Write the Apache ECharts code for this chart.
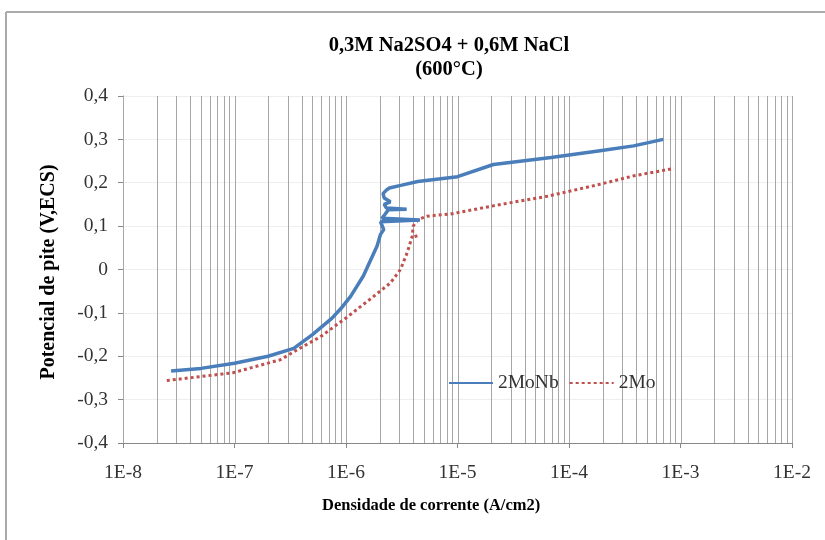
<!DOCTYPE html>
<html>
<head>
<meta charset="utf-8">
<script src="https://cdn.jsdelivr.net/npm/echarts@6/dist/echarts.min.js"></script>
<style>html,body{margin:0;padding:0;background:#fff;}#chart{width:825px;height:540px;}</style>
</head>
<body>
<div id="chart"></div>
<script>
// 2MoNb: [current density A/cm2, potential V]
const moNb = [
  [2.7e-8,-0.234],[5e-8,-0.228],[1e-7,-0.216],[2e-7,-0.2],[3.4e-7,-0.182],[5e-7,-0.15],
  [7.5e-7,-0.112],[9e-7,-0.09],[1.1e-6,-0.062],[1.43e-6,-0.015],[1.9e-6,0.054],[2.04e-6,0.081],
  [2.18e-6,0.092],[2.04e-6,0.11],[4.6e-6,0.114],[2.1e-6,0.118],[2.25e-6,0.128],[2.4e-6,0.138],
  [3.5e-6,0.139],[2.3e-6,0.142],[2.2e-6,0.15],[2.5e-6,0.156],[2.2e-6,0.165],[2.15e-6,0.175],
  [2.3e-6,0.183],[2.45e-6,0.188],[3.1e-6,0.194],[4.4e-6,0.203],[1e-5,0.214],[2.1e-5,0.242],
  [6.9e-5,0.258],[1.9e-4,0.274],[3.8e-4,0.285],[7e-4,0.3]
];
// 2Mo
const mo = [
  [2.47e-8,-0.256],[9.7e-8,-0.238],[2.58e-7,-0.208],[3.9e-7,-0.181],[5.9e-7,-0.155],
  [1.02e-6,-0.11],[1.77e-6,-0.062],[2.5e-6,-0.031],[3.08e-6,0.0],[3.54e-6,0.039],
  [3.93e-6,0.077],[4.0e-6,0.1],[4.47e-6,0.116],[5.35e-6,0.123],[8.67e-6,0.128],
  [2.44e-5,0.15],[6.41e-5,0.169],[1.93e-4,0.197],[3.82e-4,0.216],[8.75e-4,0.233]
];
const moStray = [[4.2e-6,0.08],[4.35e-6,0.068]];
const seriesNames = ['2MoNb','2Mo'];
const xMin = 1e-8, xMax = 1e-2;
const yMin = -0.4, yMax = 0.4, yStep = 0.1;
const titleText = '0,3M Na2SO4 + 0,6M NaCl\n(600°C)';
const xName = 'Densidade de corrente (A/cm2)';
const yName = 'Potencial de pite (V,ECS)';

// vertical log grid lines (decades and 2..9 subdivisions)
const gridX = [];
for (let e = -8; e < -2; e++) {
  for (let m = 1; m <= 9; m++) gridX.push(m * Math.pow(10, e));
}
gridX.push(1e-2);

const serif = '"Liberation Serif","Times New Roman",serif';
const chart = echarts.init(document.getElementById('chart'));
chart.setOption({
  animation: false,
  backgroundColor: '#fff',
  title: {
    text: titleText, left: 444, top: 29, textAlign: 'center',
    textStyle: {fontFamily: serif, fontSize: 20.5, fontWeight: 'bold', color: '#000', lineHeight: 24}
  },
  grid: {left: 123, right: 33, top: 96, bottom: 97},
  legend: {
    left: 443, top: 368, itemWidth: 44, itemHeight: 8, itemGap: 10,
    data: seriesNames,
    itemStyle: {opacity: 0},
    textStyle: {fontFamily: serif, fontSize: 19.5, color: '#333'}
  },
  xAxis: {
    type: 'log', min: xMin, max: xMax, logBase: 10,
    axisLine: {show: true, onZero: false, lineStyle: {color: '#888', width: 1}},
    axisTick: {show: true, length: 5, lineStyle: {color: '#888'}},
    axisLabel: {
      fontFamily: serif, fontSize: 19.5, color: '#333', margin: 20,
      formatter: v => '1E' + Math.round(Math.log10(v))
    },
    splitLine: {show: false}
  },
  yAxis: {
    type: 'value', min: yMin, max: yMax, interval: yStep,
    axisLine: {show: true, lineStyle: {color: '#888', width: 1}},
    axisTick: {show: true, length: 5, lineStyle: {color: '#888'}},
    axisLabel: {
      fontFamily: serif, fontSize: 19.5, color: '#333', margin: 15,
      formatter: v => Math.abs(v) < 1e-9 ? '0' : v.toFixed(1).replace('.', ',')
    },
    splitLine: {show: true, lineStyle: {color: '#eeeeee', width: 1}}
  },
  graphic: [
    {type: 'line', shape: {x1: 6, y1: 12, x2: 825, y2: 12}, style: {stroke: '#aaa', lineWidth: 2}, silent: true},
    {type: 'line', shape: {x1: 6, y1: 12, x2: 6, y2: 540}, style: {stroke: '#aaa', lineWidth: 2}, silent: true},
    {type: 'text', left: 322, top: 497, style: {text: xName, font: 'bold 16.5px ' + serif, fill: '#000'}},
    {type: 'text', x: 49, y: 272, rotation: Math.PI / 2,
     style: {text: yName, font: 'bold 20px ' + serif, fill: '#000', align: 'center', verticalAlign: 'middle'}}
  ],
  series: [
    {
      type: 'custom', name: '_grid', z: 1, silent: true,
      data: gridX.map(v => [v]),
      encode: {x: 0},
      renderItem: (params, api) => {
        const v = api.value(0);
        const p1 = api.coord([v, yMax]);
        const p2 = api.coord([v, yMin]);
        const x = Math.round(p1[0]) + 0.5;
        return {
          type: 'line',
          shape: {x1: x, y1: p1[1], x2: x, y2: p2[1]},
          style: {stroke: '#a6a6a6', lineWidth: 1}
        };
      }
    },
    {
      type: 'line', name: seriesNames[0], data: moNb, showSymbol: false, symbol: 'none', z: 4,
      lineStyle: {color: '#4a7ebb', width: 3.5}, itemStyle: {color: '#4a7ebb'}
    },
    {
      type: 'line', name: seriesNames[1], data: mo, showSymbol: false, symbol: 'none', z: 3,
      lineStyle: {color: '#c0504d', width: 3, type: [3, 3]}, itemStyle: {color: '#c0504d'}
    },
    {
      type: 'line', name: '_stray', data: moStray, showSymbol: false, symbol: 'none', z: 3,
      lineStyle: {color: '#c0504d', width: 3, type: [3, 3]}
    }
  ]
});
</script>
</body>
</html>
